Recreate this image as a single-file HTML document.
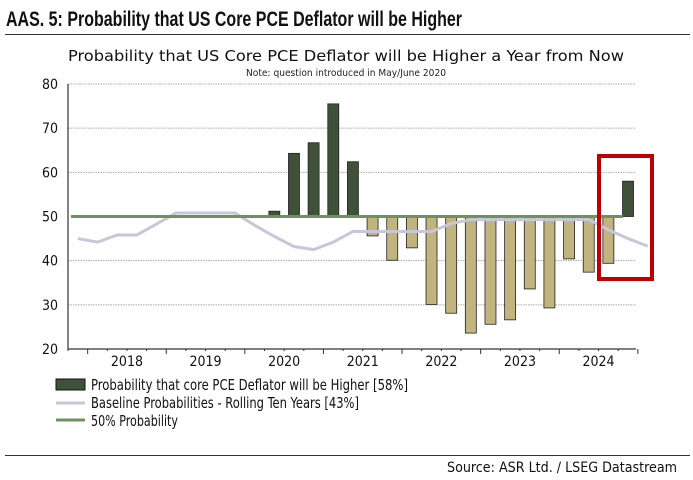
<!DOCTYPE html>
<html><head><meta charset="utf-8"><style>
body{margin:0;background:#fff;}
svg{display:block;font-family:"DejaVu Sans Condensed","Liberation Sans",sans-serif;}
</style></head><body>
<svg id="c" width="693" height="480" viewBox="0 0 693 480">
<text x="6" y="26" font-size="21" font-weight="bold" fill="#111" textLength="456" lengthAdjust="spacingAndGlyphs" style="font-family:'Liberation Sans',sans-serif">AAS. 5: Probability that US Core PCE Deflator will be Higher</text>
<line x1="5" y1="34.5" x2="690" y2="34.5" stroke="#333" stroke-width="1"/>
<text x="346" y="61" font-size="15" text-anchor="middle" fill="#111" textLength="556" lengthAdjust="spacingAndGlyphs">Probability that US Core PCE Deflator will be Higher a Year from Now</text>
<text x="346" y="76" font-size="9.5" text-anchor="middle" fill="#222" textLength="200" lengthAdjust="spacingAndGlyphs">Note: question introduced in May/June 2020</text>
<g id="grid"></g><g id="bars"></g><g id="lines"></g><g id="axes"></g>
<rect x="599" y="156" width="53" height="123" fill="none" stroke="#c00000" stroke-width="4"/>
<g>
<rect x="56" y="379" width="29" height="11" fill="#3f5239" stroke="#111"/>
<text x="91" y="390" font-size="15" fill="#111" textLength="317" lengthAdjust="spacingAndGlyphs">Probability that core PCE Deflator will be Higher [58%]</text>
<line x1="56" y1="403" x2="85" y2="403" stroke="#c8c6d8" stroke-width="3"/>
<text x="91" y="408" font-size="15" fill="#111" textLength="268" lengthAdjust="spacingAndGlyphs">Baseline Probabilities - Rolling Ten Years [43%]</text>
<line x1="56" y1="420" x2="85" y2="420" stroke="#6e9160" stroke-width="3"/>
<text x="91" y="426" font-size="15" fill="#111" textLength="87" lengthAdjust="spacingAndGlyphs">50% Probability</text>
</g>
<line x1="5" y1="455.5" x2="690" y2="455.5" stroke="#333" stroke-width="1"/>
<text x="677" y="472" font-size="14" text-anchor="end" fill="#111" textLength="230" lengthAdjust="spacingAndGlyphs">Source: ASR Ltd. / LSEG Datastream</text>
</svg>
<script>
const yTicks=[20,30,40,50,60,70,80];
const years=["2018","2019","2020","2021","2022","2023","2024"];
// quarter index 0 = Q4 2017
const barQuarters=[10,11,12,13,14,15,16,17,18,19,20,21,22,23,24,25,26,27,28];
const barValues=[51.2,64.3,66.7,75.5,62.4,45.6,40.1,42.9,30.1,28.1,23.6,25.6,26.6,33.6,29.3,40.4,37.4,39.4,58.0];
const baseline=[45,44.2,45.8,45.8,48.3,50.8,50.8,50.8,50.8,48.0,45.5,43.2,42.5,44.2,46.6,46.6,46.6,46.6,46.6,48.4,49.3,49.3,49.3,49.3,49.3,49.3,49.3,47.0,45.0,43.3];
const threshold=50;
const NS="http://www.w3.org/2000/svg";
const X0=68,X1=636,QW=19.65,Y80=84,Y20=349;
const y=v=>Y20-(v-20)*(Y20-Y80)/60;
const xq=q=>X0+QW*(q+0.5);
function mk(t,a,p){const e=document.createElementNS(NS,t);for(const k in a)e.setAttribute(k,a[k]);p.appendChild(e);return e;}
const grid=document.getElementById('grid'),axes=document.getElementById('axes'),bars=document.getElementById('bars'),lines=document.getElementById('lines');
yTicks.forEach(v=>{
 if(v!==20&&v!==50){const g=mk('line',{x1:X0,x2:X1,y1:y(v),y2:y(v),stroke:'#aaa','stroke-dasharray':'1.5,1','stroke-width':1},grid);
 
 }
 const t=mk('text',{x:58,y:y(v)+5,'font-size':14,'text-anchor':'end',fill:'#111'},axes);t.textContent=v;
 
 
});
const ax=mk('path',{d:`M${X0},${Y80}V${Y20}H${X1}`,fill:'none',stroke:'#333','stroke-width':1.2},axes);


for(let q=0;q<=29;q++){const tx=X0+QW*q;const major=(q-1)%4===0;
 const tk=mk('line',{x1:tx,x2:tx,y1:Y20,y2:Y20+(major?5:2),stroke:'#333'},axes);
 
 }
years.forEach((yr,i)=>{const t=mk('text',{x:X0+QW*(1+4*i+2),y:Y20+17,'font-size':14,'text-anchor':'middle',fill:'#111'},axes);t.textContent=yr;
 
 });
barQuarters.forEach((q,i)=>{const v=barValues[i];const top=Math.min(y(v),y(threshold)),h=Math.abs(y(v)-y(threshold));
 const r=mk('rect',{x:xq(q)-5.5,y:top,width:11,height:h,fill:v>=threshold?'#3f5239':'#c2b47f',stroke:'#222','stroke-width':0.8},bars);
 
 });
const l1=mk('path',{d:baseline.map((v,i)=>(i?'L':'M')+xq(i)+','+y(v)).join(''),fill:'none',stroke:'#c8c6d8','stroke-width':3},lines);


const l2=mk('line',{x1:X0+3,x2:xq(28)-5,y1:y(threshold),y2:y(threshold),stroke:'#6e9160','stroke-width':3},lines);


</script>
</body></html>
